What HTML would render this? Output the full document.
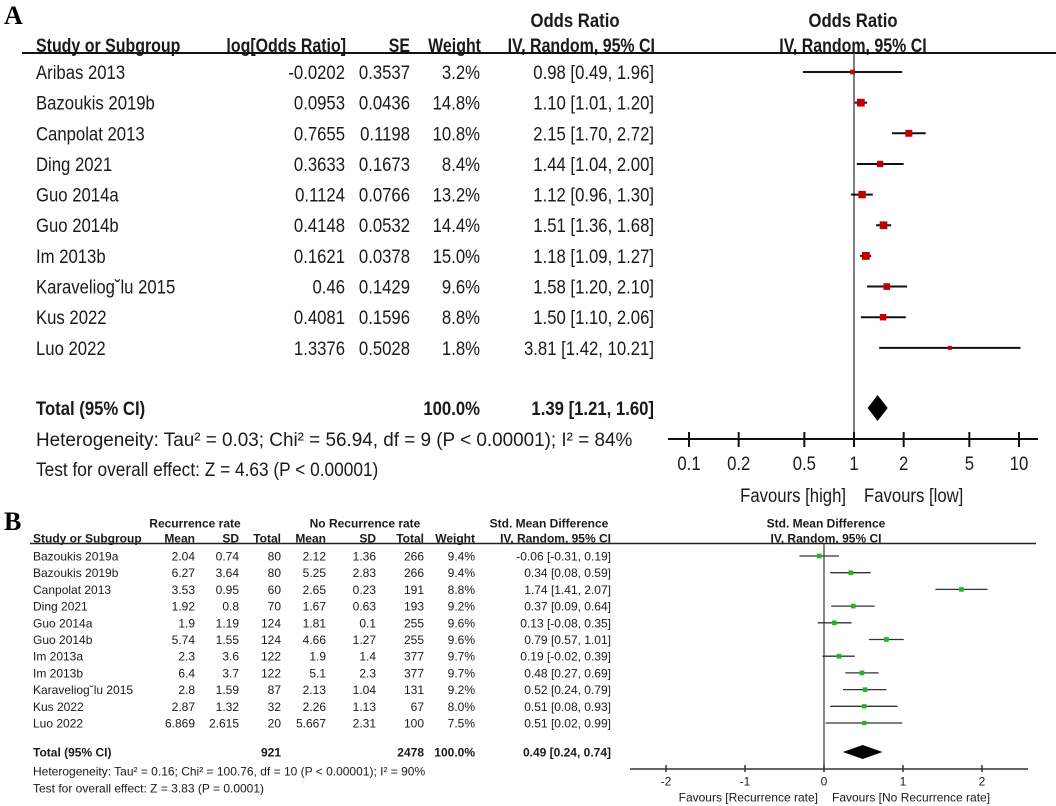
<!DOCTYPE html>
<html><head><meta charset="utf-8">
<style>
html,body{margin:0;padding:0;background:#fff;}
svg{display:block;}
.n{font-family:"Liberation Sans Narrow","Liberation Sans",sans-serif;font-size:19px;fill:#1a1a1a;}
.nb{font-family:"Liberation Sans Narrow","Liberation Sans",sans-serif;font-size:19px;font-weight:bold;fill:#1a1a1a;}
.s{font-family:"Liberation Sans",sans-serif;font-size:12px;fill:#1a1a1a;}
.sb{font-family:"Liberation Sans",sans-serif;font-size:12px;font-weight:bold;fill:#1a1a1a;}
.L{font-family:"Liberation Serif",serif;font-size:26px;font-weight:bold;fill:#000;}
</style></head>
<body>
<svg id="fig" width="1056" height="806" viewBox="0 0 1056 806" xmlns="http://www.w3.org/2000/svg">
<text class="L" x="4" y="24">A</text>
<text class="L" x="4" y="530">B</text>
<g id="ga"></g>
<g id="gb"></g>
</svg>
<script>
// Panel A data
const aStudies=["Aribas 2013","Bazoukis 2019b","Canpolat 2013","Ding 2021","Guo 2014a","Guo 2014b","Im 2013b","Karaveliog\u02d8lu  2015","Kus 2022","Luo 2022"];
const aLogOR=["-0.0202","0.0953","0.7655","0.3633","0.1124","0.4148","0.1621","0.46","0.4081","1.3376"];
const aSE=["0.3537","0.0436","0.1198","0.1673","0.0766","0.0532","0.0378","0.1429","0.1596","0.5028"];
const aWeight=[3.2,14.8,10.8,8.4,13.2,14.4,15.0,9.6,8.8,1.8];
const aOR=[0.98,1.10,2.15,1.44,1.12,1.51,1.18,1.58,1.50,3.81];
const aLo=[0.49,1.01,1.70,1.04,0.96,1.36,1.09,1.20,1.10,1.42];
const aHi=[1.96,1.20,2.72,2.00,1.30,1.68,1.27,2.10,2.06,10.21];
const aTotal=[1.39,1.21,1.60];
const aTicks=[0.1,0.2,0.5,1,2,5,10];
const aTickLabels=["0.1","0.2","0.5","1","2","5","10"];
// Panel B data
const bStudies=["Bazoukis 2019a","Bazoukis 2019b","Canpolat 2013","Ding 2021","Guo 2014a","Guo 2014b","Im 2013a","Im 2013b","Karaveliog\u02d8lu  2015","Kus 2022","Luo 2022"];
const bMean1=["2.04","6.27","3.53","1.92","1.9","5.74","2.3","6.4","2.8","2.87","6.869"];
const bSD1=["0.74","3.64","0.95","0.8","1.19","1.55","3.6","3.7","1.59","1.32","2.615"];
const bN1=["80","80","60","70","124","124","122","122","87","32","20"];
const bMean2=["2.12","5.25","2.65","1.67","1.81","4.66","1.9","5.1","2.13","2.26","5.667"];
const bSD2=["1.36","2.83","0.23","0.63","0.1","1.27","1.4","2.3","1.04","1.13","2.31"];
const bN2=["266","266","191","193","255","255","377","377","131","67","100"];
const bWeight=[9.4,9.4,8.8,9.2,9.6,9.6,9.7,9.7,9.2,8.0,7.5];
const bSMD=[-0.06,0.34,1.74,0.37,0.13,0.79,0.19,0.48,0.52,0.51,0.51];
const bLo=[-0.31,0.08,1.41,0.09,-0.08,0.57,-0.02,0.27,0.24,0.08,0.02];
const bHi=[0.19,0.59,2.07,0.64,0.35,1.01,0.39,0.69,0.79,0.93,0.99];
const bTotal=[0.49,0.24,0.74];
const bTicks=[-2,-1,0,1,2];

const NS="http://www.w3.org/2000/svg";
function mk(parent,tag,attrs,txt){const e=document.createElementNS(NS,tag);for(const k in attrs)e.setAttribute(k,attrs[k]);if(txt!==undefined)e.textContent=txt;parent.appendChild(e);return e;}
function f2(v){return v.toFixed(2);}

// ---------- Panel A ----------
const ga=document.getElementById('ga');
const ax=v=>854+165*Math.log10(v);
const ay=i=>72+30.65*i;
function tA(x,y,s,cls,anchor,name,k){k=k||0.88;
const e=mk(ga,'text',{x:0,y:y+7,class:cls,'text-anchor':anchor||'start',transform:`translate(${x},0) scale(${k},1)`},s);

return e;}
tA(575,20,"Odds Ratio","nb","middle","a-or-col-title");
tA(853,20,"Odds Ratio","nb","middle","a-plot-title");
tA(36,45,"Study or Subgroup","nb","start","a-study-header",0.84);
tA(346,45,"log[Odds Ratio]","nb","end","a-logor-header",0.84);
tA(410,45,"SE","nb","end","a-se-header",0.84);
tA(481,45,"Weight","nb","end","a-weight-header",0.84);
tA(655,45,"IV, Random, 95% CI","nb","end","a-ci-header",0.84);
tA(853,45,"IV, Random, 95% CI","nb","middle","a-plot-ci-header",0.84);
let ln=mk(ga,'line',{x1:22,y1:53,x2:1056,y2:53,stroke:'#111','stroke-width':2});


ln=mk(ga,'line',{x1:ax(1),y1:53,x2:ax(1),y2:439,stroke:'#555','stroke-width':1.5});


aStudies.forEach((s,i)=>{
  const y=ay(i);
  tA(36,y,s,"n","start","a-study-name");
  tA(345,y,aLogOR[i],"n","end","a-logor-value");
  tA(410,y,aSE[i],"n","end","a-se-value");
  tA(480,y,aWeight[i].toFixed(1)+"%","n","end","a-weight-value");
  tA(654,y,f2(aOR[i])+" ["+f2(aLo[i])+", "+f2(aHi[i])+"]","n","end","a-ci-value");
  const w=mk(ga,'line',{x1:ax(aLo[i]),y1:y,x2:ax(aHi[i]),y2:y,stroke:'#111','stroke-width':2});
  
  
  const sz=2+Math.sqrt(aWeight[i])*1.5;
  const r=mk(ga,'rect',{x:ax(aOR[i])-sz/2,y:y-sz/2,width:sz,height:sz,fill:'#c00000'});
  
  
});
const yT=408;
tA(36,yT,"Total (95% CI)","nb","start","a-total-label");
tA(480,yT,"100.0%","nb","end","a-total-weight");
tA(654,yT,f2(aTotal[0])+" ["+f2(aTotal[1])+", "+f2(aTotal[2])+"]","nb","end","a-total-ci");
let dm=mk(ga,'polygon',{points:`${ax(aTotal[1])},${yT} ${ax(aTotal[0])},${yT-13} ${ax(aTotal[2])},${yT} ${ax(aTotal[0])},${yT+13}`,fill:'#000'});


tA(36,439,"Heterogeneity: Tau\u00b2 = 0.03; Chi\u00b2 = 56.94, df = 9 (P < 0.00001); I\u00b2 = 84%","n","start","a-heterogeneity",0.995);
tA(36,469,"Test for overall effect: Z = 4.63 (P < 0.00001)","n","start","a-overall-test",0.91);
ln=mk(ga,'line',{x1:668,y1:439,x2:1038,y2:439,stroke:'#111','stroke-width':2});


aTicks.forEach((t,i)=>{
  const tk=mk(ga,'line',{x1:ax(t),y1:432,x2:ax(t),y2:447,stroke:'#111','stroke-width':2});
  
  
  tA(ax(t),463,aTickLabels[i],"n","middle","a-x-tick-label");
});
tA(846,495,"Favours [high]","n","end","a-favours-high");
tA(864,495,"Favours [low]","n","start","a-favours-low");

// ---------- Panel B ----------
const gb=document.getElementById('gb');
const bx=v=>824+79*v;
const by=i=>556+16.7*i;
function tB(x,y,s,cls,anchor,name){const e=mk(gb,'text',{x:x,y:y+4.5,class:cls,'text-anchor':anchor||'start'},s);

return e;}
tB(195,523,"Recurrence rate","sb","middle","b-recurrence-group-header");
tB(365,523,"No Recurrence rate","sb","middle","b-norecurrence-group-header");
tB(549,523,"Std. Mean Difference","sb","middle","b-smd-col-title");
tB(826,523,"Std. Mean Difference","sb","middle","b-plot-title");
tB(33,538,"Study or Subgroup","sb","start","b-study-header");
tB(195,538,"Mean","sb","end","b-mean1-header");
tB(239,538,"SD","sb","end","b-sd1-header");
tB(281,538,"Total","sb","end","b-total1-header");
tB(326,538,"Mean","sb","end","b-mean2-header");
tB(376,538,"SD","sb","end","b-sd2-header");
tB(424,538,"Total","sb","end","b-total2-header");
tB(475,538,"Weight","sb","end","b-weight-header");
tB(611,538,"IV, Random, 95% CI","sb","end","b-ci-header");
tB(826,538,"IV, Random, 95% CI","sb","middle","b-plot-ci-header");
ln=mk(gb,'line',{x1:30,y1:543.5,x2:1036,y2:543.5,stroke:'#222','stroke-width':1.5});


ln=mk(gb,'line',{x1:bx(0),y1:543,x2:bx(0),y2:769,stroke:'#444','stroke-width':1.3});


bStudies.forEach((s,i)=>{
  const y=by(i);
  tB(33,y,s,"s","start","b-study-name");
  tB(195,y,bMean1[i],"s","end","b-mean1-value");
  tB(239,y,bSD1[i],"s","end","b-sd1-value");
  tB(281,y,bN1[i],"s","end","b-n1-value");
  tB(326,y,bMean2[i],"s","end","b-mean2-value");
  tB(376,y,bSD2[i],"s","end","b-sd2-value");
  tB(424,y,bN2[i],"s","end","b-n2-value");
  tB(475,y,bWeight[i].toFixed(1)+"%","s","end","b-weight-value");
  tB(611,y,f2(bSMD[i])+" ["+f2(bLo[i])+", "+f2(bHi[i])+"]","s","end","b-ci-value");
  const w=mk(gb,'line',{x1:bx(bLo[i]),y1:y,x2:bx(bHi[i]),y2:y,stroke:'#333','stroke-width':1.3});
  
  
  const sz=1+Math.sqrt(bWeight[i])*1.2;
  const r=mk(gb,'rect',{x:bx(bSMD[i])-sz/2,y:y-sz/2,width:sz,height:sz,fill:'#1fb81f'});
  
  
});
const yB=752;
tB(33,yB,"Total (95% CI)","sb","start","b-total-label");
tB(281,yB,"921","sb","end","b-total-n1");
tB(424,yB,"2478","sb","end","b-total-n2");
tB(475,yB,"100.0%","sb","end","b-total-weight");
tB(611,yB,f2(bTotal[0])+" ["+f2(bTotal[1])+", "+f2(bTotal[2])+"]","sb","end","b-total-ci");
dm=mk(gb,'polygon',{points:`${bx(bTotal[1])},${yB} ${bx(bTotal[0])},${yB-7} ${bx(bTotal[2])},${yB} ${bx(bTotal[0])},${yB+7}`,fill:'#000'});


tB(33,771,"Heterogeneity: Tau\u00b2 = 0.16; Chi\u00b2 = 100.76, df = 10 (P < 0.00001); I\u00b2 = 90%","s","start","b-heterogeneity");
tB(33,788,"Test for overall effect: Z = 3.83 (P = 0.0001)","s","start","b-overall-test");
ln=mk(gb,'line',{x1:630,y1:769,x2:1028,y2:769,stroke:'#333','stroke-width':1.5});


bTicks.forEach(t=>{
  const tk=mk(gb,'line',{x1:bx(t),y1:765,x2:bx(t),y2:772,stroke:'#333','stroke-width':1.5});
  
  
  tB(bx(t),781,String(t),"s","middle","b-x-tick-label");
});
tB(818,797,"Favours [Recurrence rate]","s","end","b-favours-recurrence");
tB(832,797,"Favours [No Recurrence rate]","s","start","b-favours-no-recurrence");
</script>
</body></html>
